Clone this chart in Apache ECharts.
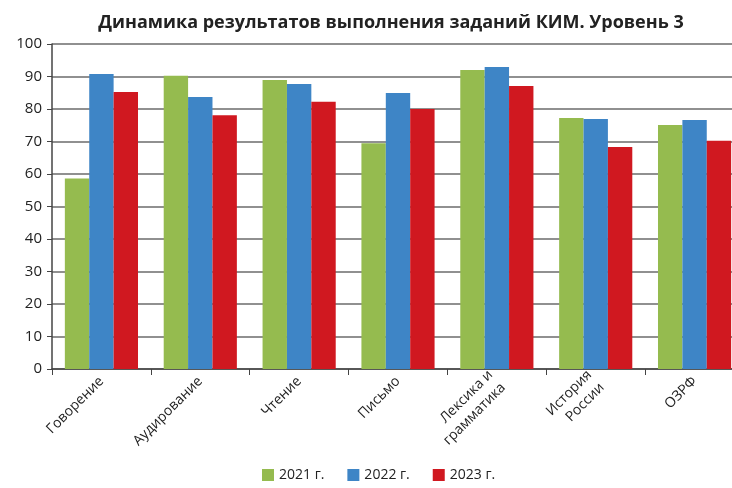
<!DOCTYPE html>
<html>
<head>
<meta charset="utf-8">
<script src="https://cdn.jsdelivr.net/npm/echarts@6/dist/echarts.min.js"></script>
<style>
  html, body { margin: 0; padding: 0; background: #fff; }
  #chart { width: 732px; height: 488px; }
</style>
</head>
<body>
<div id="chart"></div>
<script>
const categories = ['Говорение', 'Аудирование', 'Чтение', 'Письмо', 'Лексика и\nграмматика', 'История\nРоссии', 'ОЗРФ'];
const years = ['2021 г.', '2022 г.', '2023 г.'];
const values2021 = [58.6, 90.2, 88.9, 69.5, 92.0, 77.2, 75.1];
const values2022 = [90.8, 83.7, 87.7, 84.9, 92.9, 76.9, 76.6];
const values2023 = [85.2, 78.1, 82.2, 80.0, 87.1, 68.3, 70.2];
const colors = ['#95bb4f', '#3e85c6', '#d01820'];

const chart = echarts.init(document.getElementById('chart'));
const font = '"Open Sans", "Noto Sans", sans-serif';

const seriesData = [values2021, values2022, values2023];

chart.setOption({
    animation: false,
    title: {
        text: 'Динамика результатов выполнения заданий КИМ. Уровень 3',
        left: 386,
        top: 9,
        textAlign: 'center',
        textStyle: { fontFamily: font, fontSize: 18, fontWeight: 'bold', color: '#222' }
    },
    legend: {
        bottom: 1,
        left: 257,
        itemWidth: 12,
        itemHeight: 12,
        itemGap: 23,
        icon: 'rect',
        textStyle: { fontFamily: font, fontSize: 14, color: '#222' },
        data: years
    },
    grid: { left: 52, width: 692, top: 44, bottom: 119, containLabel: false, outerBoundsMode: 'none' },
    xAxis: {
        type: 'category',
        data: categories,
        axisLine: { lineStyle: { color: '#444', width: 1.5 } },
        axisTick: { show: true, length: 6, lineStyle: { color: '#444' } },
        axisLabel: {
            rotate: 45,
            interval: 0,
            margin: 10,
            fontFamily: font,
            fontSize: 14,
            color: '#222',
            lineHeight: 18
        }
    },
    yAxis: {
        type: 'value',
        min: 0,
        max: 100,
        interval: 10,
        axisLine: { show: true, lineStyle: { color: '#444', width: 1.5 } },
        axisTick: { show: true, length: 5, lineStyle: { color: '#444' } },
        axisLabel: { fontFamily: font, fontSize: 15, color: '#222', margin: 10 },
        splitLine: { lineStyle: { color: '#6b6b6b', width: 1.5 } }
    },
    series: seriesData.map((d, i) => ({
        name: years[i],
        type: 'bar',
        data: d,
        barGap: '0%',
        barCategoryGap: '26%',
        itemStyle: { color: colors[i] }
    }))
});
</script>
</body>
</html>
